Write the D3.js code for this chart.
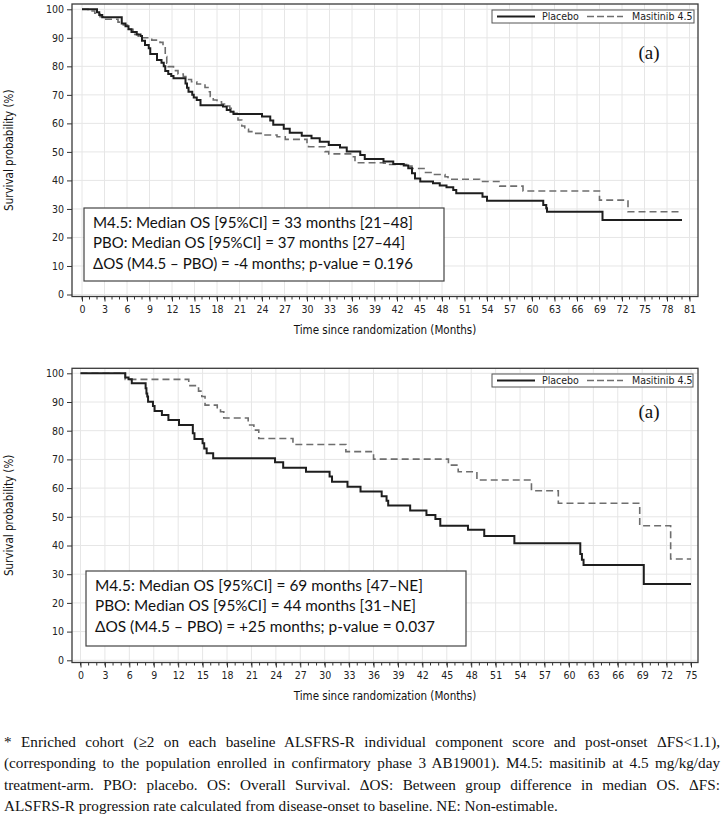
<!DOCTYPE html>
<html>
<head>
<meta charset="utf-8">
<script src="https://cdn.jsdelivr.net/npm/d3@7"></script>
<style>
  html, body { margin: 0; padding: 0; background: #fff; }
  #wrap { position: relative; width: 724px; height: 827px; }
  svg { position: absolute; left: 0; top: 0; }
  .foot { position: absolute; left: 4px; width: 716px; font-family: "Liberation Serif", "Times New Roman", serif; font-size: 15.2px; color: #111; }
  .foot div { white-space: nowrap; height: 21.3px; line-height: 21.3px; text-align: justify; text-align-last: justify; }
  .foot div.last { text-align: left; text-align-last: left; }
</style>
</head>
<body>
<div id="wrap"></div>
<script>
// ---------------- DATA ----------------
const seriesNames = ["Placebo", "Masitinib 4.5"];

// Panel 1 (top)
const topPlaceboMonths = [0, 2.0, 2.3, 2.7, 5.3, 5.8, 6.2, 6.6, 7.3, 7.8, 8.0, 8.4, 8.9, 9.1, 10.0, 10.6, 10.9, 11.1, 11.5, 11.9, 12.2, 13.8, 14.0, 14.2, 14.7, 14.9, 15.3, 15.8, 18.8, 19.3, 19.8, 20.2, 24.0, 25.1, 25.5, 26.9, 27.7, 29.3, 30.6, 31.7, 32.9, 34.4, 35.3, 37.1, 37.7, 40.2, 41.5, 42.9, 43.5, 44.0, 44.4, 45.1, 46.8, 47.7, 48.6, 49.5, 49.9, 53.4, 54.0, 61.5, 61.9, 62.0, 69.4, 80.0];
const topPlaceboSurv = [100, 99, 98, 97.2, 95, 94.1, 93, 92, 91.2, 90.6, 89, 87.5, 86.3, 84.3, 82.2, 81.3, 80, 78.4, 77.3, 76.6, 75.8, 74, 72.5, 71.1, 70, 69.1, 68.2, 66.4, 65.9, 64.7, 64.1, 63.3, 62.4, 61, 59.5, 58.1, 56.7, 55.7, 54.8, 53.6, 52.4, 51.5, 50.1, 48.9, 47.5, 46.6, 45.8, 45.2, 44.3, 42.5, 40.7, 39.6, 39.0, 38.2, 37.6, 36.6, 35.5, 34.3, 32.9, 31.4, 30.2, 29.0, 26.1, 26.1];
const topMasitinibMonths = [0, 0.8, 1.7, 2.4, 2.8, 4.8, 5.5, 6.2, 6.8, 7.5, 9.3, 10.4, 10.8, 11.1, 11.3, 11.5, 12.2, 12.8, 13.5, 14.0, 14.6, 15.3, 16.4, 16.8, 17.1, 17.5, 18.0, 18.6, 19.3, 19.7, 20.2, 20.8, 21.3, 21.7, 22.2, 22.9, 24.0, 26.0, 27.1, 30.0, 30.2, 32.4, 32.9, 36.0, 36.4, 40.2, 40.6, 43.3, 44.0, 45.8, 47.0, 48.4, 48.8, 53.0, 55.7, 58.8, 69.0, 72.8, 80.0];
const topMasitinibSurv = [100, 99.4, 98.6, 97.4, 96.5, 95.5, 94.5, 93, 91.2, 90, 89.2, 88.4, 86.9, 83.4, 81.1, 79.9, 78.5, 77.3, 76.4, 75.4, 74.6, 73.8, 72.6, 71.1, 69.4, 68.2, 67.6, 66.8, 66.1, 65.3, 63.5, 61.2, 59.1, 57.9, 57.1, 56.5, 55.9, 55.3, 54.4, 53.3, 51.8, 50.1, 49.3, 48.3, 46.2, 46.0, 45.6, 45.0, 44.2, 42.8, 42.1, 41.3, 40.4, 39.6, 38.0, 36.3, 33.1, 29.0, 29.0];
const topXTicks = d3.range(0, 82, 3);   // 0..81
const topNotes = [
  "M4.5: Median OS [95%CI] = 33 months [21\u201348]",
  "PBO: Median OS [95%CI] = 37 months [27\u201344]",
  "\u0394OS (M4.5 \u2013 PBO) = -4 months; p-value = 0.196"
];

// Panel 2 (bottom)
const botPlaceboMonths = [0, 5.5, 5.9, 6.3, 8.0, 8.1, 8.2, 8.3, 8.9, 9.1, 10.0, 10.8, 12.1, 13.8, 14.0, 15.0, 15.2, 15.5, 16.3, 23.9, 24.9, 27.7, 30.6, 30.9, 32.8, 34.4, 37.0, 37.6, 37.8, 40.5, 42.5, 43.6, 44.2, 47.6, 49.6, 53.3, 61.4, 61.6, 61.8, 69.2, 75.0];
const botPlaceboSurv = [100, 98.5, 97.9, 96.5, 94.8, 93, 91.9, 90.1, 88.6, 86.9, 85.5, 83.7, 82, 79.1, 77.1, 75.6, 73.8, 72.1, 70.4, 69, 67.1, 65.7, 64, 62.2, 60.5, 58.8, 57.2, 55.6, 53.9, 52.2, 50.6, 49.2, 46.9, 45.5, 43.3, 40.8, 37, 35, 33.2, 26.6, 26.6];
const botMasitinibMonths = [0, 5.5, 13.3, 14.5, 14.9, 15.3, 16.8, 17.2, 17.6, 20.6, 21.3, 21.9, 26.1, 32.6, 36.0, 45.2, 46.4, 48.7, 55.4, 58.7, 68.7, 72.5, 75.0];
const botMasitinibSurv = [100, 97.9, 95.7, 93.8, 91.9, 88.9, 88, 86.6, 84.4, 82, 80.2, 77.3, 75.2, 72.7, 70.1, 68, 65.7, 62.8, 59.1, 54.7, 46.9, 35.3, 35.3];
const botXTicks = d3.range(0, 76, 3);   // 0..75
const botNotes = [
  "M4.5: Median OS [95%CI] = 69 months [47\u2013NE]",
  "PBO: Median OS [95%CI] = 44 months [31\u2013NE]",
  "\u0394OS (M4.5 \u2013 PBO) = +25 months; p-value = 0.037"
];

const yTicks = d3.range(0, 101, 10);
const panelLabel = "(a)";
const yTitle = "Survival probability (%)";
const xTitle = "Time since randomization (Months)";

const footLines = [
  "* Enriched cohort (\u22652 on each baseline ALSFRS-R individual component score and post-onset \u0394FS<1.1),",
  "(corresponding to the population enrolled in confirmatory phase 3 AB19001). M4.5: masitinib at 4.5 mg/kg/day",
  "treatment-arm. PBO: placebo. OS: Overall Survival. \u0394OS: Between group difference in median OS. \u0394FS:",
  "ALSFRS-R progression rate calculated from disease-onset to baseline. NE: Non-estimable."
];

// ---------------- LAYOUT ----------------
const W = 724, H = 827;
const axisFont = '"Liberation Sans Narrow", "DejaVu Sans Condensed", "Roboto Condensed", sans-serif';
const boxFont = 'Lato, "Open Sans", sans-serif';

const panels = [
  { xmax: 81, xr: [82, 689.5], yr: [294.5, 9.3], frame: {l: 72, r: 698, t: 4, b: 296.5},
    xTicks: topXTicks, placebo: [topPlaceboMonths, topPlaceboSurv], masitinib: [topMasitinibMonths, topMasitinibSurv],
    notes: topNotes, noteBox: {x: 84, y: 208, w: 360, h: 73}, noteW: [320, 312, 320],
    legend: {x: 492, y: 10, w: 202, h: 13}, label: {x: 649, y: 59}, xTitleY: 334, yTitleX: 13 },
  { xmax: 75, xr: [80.5, 691], yr: [660.3, 373.3], frame: {l: 72, r: 698, t: 368.3, b: 662.5},
    xTicks: botXTicks, placebo: [botPlaceboMonths, botPlaceboSurv], masitinib: [botMasitinibMonths, botMasitinibSurv],
    notes: botNotes, noteBox: {x: 86, y: 571, w: 380, h: 75}, noteW: [328, 321, 340],
    legend: {x: 492, y: 374, w: 201, h: 13}, label: {x: 649, y: 418}, xTitleY: 700, yTitleX: 13 }
];

const svg = d3.select("#wrap").append("svg").attr("width", W).attr("height", H);

panels.forEach(p => {
  const g = svg.append("g");
  const x = d3.scaleLinear().domain([0, p.xmax]).range(p.xr);
  const y = d3.scaleLinear().domain([0, 100]).range(p.yr);
  const f = p.frame;

  // gridlines
  g.append("g").selectAll("line.vg").data(p.xTicks).join("line")
    .attr("x1", d => x(d)).attr("x2", d => x(d)).attr("y1", f.t).attr("y2", f.b)
    .attr("stroke", "#e6e6e6").attr("stroke-width", 1);
  g.append("g").selectAll("line.hg").data(yTicks).join("line")
    .attr("x1", f.l).attr("x2", f.r).attr("y1", d => y(d)).attr("y2", d => y(d))
    .attr("stroke", "#e6e6e6").attr("stroke-width", 1);

  // frame
  g.append("rect").attr("x", f.l).attr("y", f.t).attr("width", f.r - f.l).attr("height", f.b - f.t)
    .attr("fill", "none").attr("stroke", "#3a3a3a").attr("stroke-width", 1.3);

  // y axis
  const yAxis = d3.axisLeft(y).tickValues(yTicks).tickSize(5).tickPadding(3);
  const ya = g.append("g").attr("transform", `translate(${f.l},0)`).call(yAxis);
  ya.select(".domain").remove();
  ya.selectAll("line").attr("stroke", "#333");
  ya.selectAll("text").attr("font-family", axisFont).attr("font-size", 10.5).attr("fill", "#222");

  // x axis minor ticks
  const minor = d3.range(0, p.xmax + 1, 1);
  g.append("g").selectAll("line").data(minor).join("line")
    .attr("x1", d => x(d)).attr("x2", d => x(d)).attr("y1", f.b).attr("y2", f.b + 3)
    .attr("stroke", "#333").attr("stroke-width", 1);
  const xAxis = d3.axisBottom(x).tickValues(p.xTicks).tickSize(5).tickPadding(4);
  const xa = g.append("g").attr("transform", `translate(0,${f.b})`).call(xAxis);
  xa.select(".domain").remove();
  xa.selectAll("line").attr("stroke", "#333");
  xa.selectAll("text").attr("font-family", axisFont).attr("font-size", 10.5).attr("fill", "#222");

  // titles
  g.append("text").attr("x", (f.l + f.r) / 2).attr("y", p.xTitleY).attr("text-anchor", "middle")
    .attr("font-family", axisFont).attr("font-size", 11.5).attr("fill", "#111").text(xTitle);
  g.append("text").attr("transform", `translate(${p.yTitleX},${(f.t + f.b) / 2}) rotate(-90)`)
    .attr("text-anchor", "middle").attr("font-family", axisFont).attr("font-size", 11.5).attr("fill", "#111").text(yTitle);

  // curves
  const line = d3.line().x(d => x(d[0])).y(d => y(d[1])).curve(d3.curveStepAfter);
  const mas = d3.zip(p.masitinib[0], p.masitinib[1]);
  const pla = d3.zip(p.placebo[0], p.placebo[1]);
  g.append("path").attr("d", line(mas)).attr("fill", "none").attr("stroke", "#6e6e6e")
    .attr("stroke-width", 1.6).attr("stroke-dasharray", "7,4");
  g.append("path").attr("d", line(pla)).attr("fill", "none").attr("stroke", "#1e1e1e")
    .attr("stroke-width", 2);

  // legend
  const L = p.legend, ly = L.y + L.h / 2;
  g.append("rect").attr("x", L.x).attr("y", L.y).attr("width", L.w).attr("height", L.h)
    .attr("fill", "#fff").attr("stroke", "#555").attr("stroke-width", 1);
  g.append("line").attr("x1", L.x + 5).attr("x2", L.x + 43).attr("y1", ly).attr("y2", ly)
    .attr("stroke", "#1e1e1e").attr("stroke-width", 2);
  g.append("text").attr("x", L.x + 50).attr("y", ly + 3.8).attr("font-family", axisFont)
    .attr("font-size", 10.5).attr("fill", "#222").text(seriesNames[0]);
  g.append("line").attr("x1", L.x + 95).attr("x2", L.x + 131).attr("y1", ly).attr("y2", ly)
    .attr("stroke", "#6e6e6e").attr("stroke-width", 1.5).attr("stroke-dasharray", "7,3");
  g.append("text").attr("x", L.x + 140).attr("y", ly + 3.8).attr("font-family", axisFont)
    .attr("font-size", 10.5).attr("fill", "#222").text(seriesNames[1]);

  // panel label
  g.append("text").attr("x", p.label.x).attr("y", p.label.y).attr("text-anchor", "middle")
    .attr("font-family", '"Liberation Serif", serif').attr("font-size", 19).attr("fill", "#111").text(panelLabel);

  // notes box
  const B = p.noteBox;
  g.append("rect").attr("x", B.x).attr("y", B.y).attr("width", B.w).attr("height", B.h)
    .attr("fill", "#fff").attr("stroke", "#444").attr("stroke-width", 1.2);
  p.notes.forEach((t, i) => {
    g.append("text").attr("x", B.x + 9).attr("y", B.y + 20 + i * 20.3)
      .attr("font-family", boxFont).attr("font-size", 15.5).attr("fill", "#111")
      .attr("textLength", p.noteW[i]).attr("lengthAdjust", "spacingAndGlyphs").text(t);
  });
});

// footnote
const foot = d3.select("#wrap").append("div").attr("class", "foot").style("top", "731px");
foot.selectAll("div").data(footLines).join("div")
  .attr("class", (d, i) => i === footLines.length - 1 ? "last" : null)
  .text(d => d);
</script>
</body>
</html>
